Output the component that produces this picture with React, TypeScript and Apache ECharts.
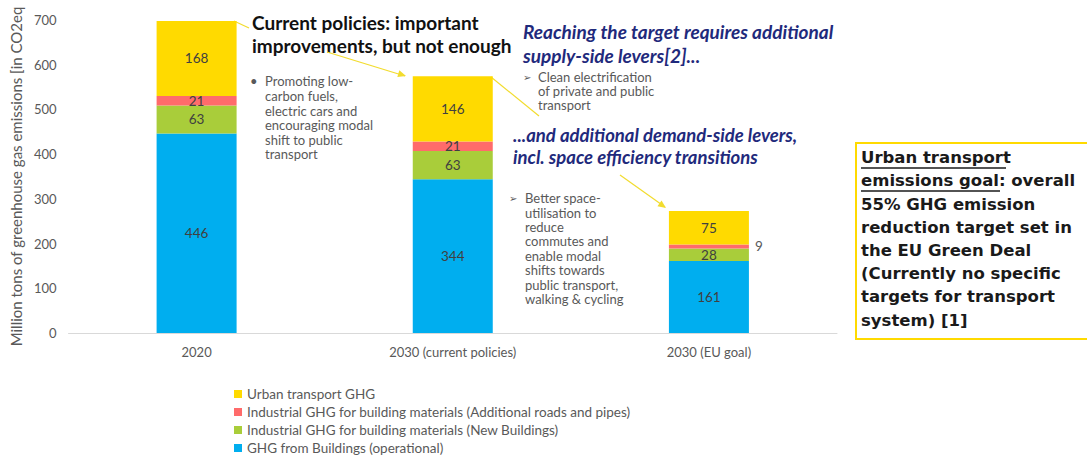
import React, { useEffect, useRef } from "react";
import * as echarts from "echarts";

const categories = ["2020", "2030 (current policies)", "2030 (EU goal)"];
const seriesNames = [
  "GHG from Buildings (operational)",
  "Industrial GHG for building materials (New Buildings)",
  "Industrial GHG for building materials (Additional roads and pipes)",
  "Urban transport GHG",
];
const buildingsOperational = [446, 344, 161];
const newBuildings = [63, 63, 28];
const roadsPipes = [21, 21, 9];
const urbanTransport = [168, 146, 75];
const seriesColors = ["#00AEEF", "#A9CD3A", "#FF6B6B", "#FFDA00"];
const yTicks = { min: 0, max: 700, interval: 100 };
const legendOrder = [seriesNames[3], seriesNames[2], seriesNames[1], seriesNames[0]];

const FONT = "Lato, 'Open Sans', sans-serif";
const BOXFONT = "'DejaVu Sans', sans-serif";
const GREY = "#595959";
const NAVY = "#1F2A7C";
const ARROW = "#F2DC2E";

export default function App() {
  const ref = useRef<HTMLDivElement>(null);
  useEffect(() => {
    if (!ref.current) return;
    const chart = echarts.init(ref.current, undefined, { renderer: "svg" });
    const values = [buildingsOperational, newBuildings, roadsPipes, urbanTransport];
    const series = values.map((vals, i) => ({
      name: seriesNames[i],
      type: "bar",
      stack: "total",
      barWidth: 80,
      itemStyle: { color: seriesColors[i] },
      label: {
        show: true,
        position: "inside",
        color: "#404040",
        fontSize: 13.5,
        fontFamily: FONT,
      },
      data: vals.map((v, j) =>
        i === 2 && j === 2
          ? { value: v, label: { position: "right", distance: 6, color: GREY } }
          : v
      ),
    }));

    const bodyText = (x: number, y: number, text: string, size = 13, lh = 14.6) => ({
      type: "text",
      x,
      y,
      style: { text, fill: GREY, font: `${size}px ${FONT}`, lineHeight: lh },
    });
    const yellowLine = (x1: number, y1: number, x2: number, y2: number) => ({
      type: "line",
      shape: { x1, y1, x2, y2 },
      style: { stroke: ARROW, lineWidth: 1.2 },
    });
    const arrowHead = (x1: number, y1: number, x2: number, y2: number) => {
      const a = Math.atan2(y2 - y1, x2 - x1);
      const L = 8, W = 3.5;
      const bx = x2 - L * Math.cos(a), by = y2 - L * Math.sin(a);
      return {
        type: "polygon",
        shape: {
          points: [
            [x2, y2],
            [bx + W * Math.sin(a), by - W * Math.cos(a)],
            [bx - W * Math.sin(a), by + W * Math.cos(a)],
          ],
        },
        style: { fill: ARROW },
      };
    };

    const boxLines = [
      "Urban transport",
      "emissions goal: overall",
      "55% GHG emission",
      "reduction target set in",
      "the EU Green Deal",
      "(Currently no specific",
      "targets for transport",
      "system) [1]",
    ];

    chart.setOption({
      animation: false,
      textStyle: { fontFamily: FONT },
      grid: { left: 65, right: 250, top: 20, bottom: 126 },
      xAxis: {
        type: "category",
        data: categories,
        axisLine: { lineStyle: { color: "#D9D9D9", width: 1 } },
        axisTick: { show: false },
        axisLabel: { color: GREY, fontSize: 13, margin: 12, fontFamily: FONT },
      },
      yAxis: {
        type: "value",
        min: yTicks.min,
        max: yTicks.max,
        interval: yTicks.interval,
        splitLine: { show: false },
        axisLine: { show: false },
        axisLabel: { color: GREY, fontSize: 13, margin: 12, fontFamily: FONT },
        name: "Million tons of greenhouse gas emissions [in CO2eq",
        nameLocation: "middle",
        nameGap: 40,
        nameTextStyle: { color: GREY, fontSize: 15, fontFamily: FONT },
      },
      legend: {
        data: legendOrder,
        orient: "vertical",
        left: 229,
        top: 382,
        height: 78,
        icon: "rect",
        itemWidth: 8,
        itemHeight: 8,
        itemGap: 4,
        textStyle: { color: GREY, fontSize: 13.5, fontFamily: FONT },
      },
      series,
      graphic: [
        {
          type: "text",
          x: 252,
          y: 11,
          style: {
            text: "Current policies: important\nimprovements, but not enough",
            fill: "#111",
            font: `bold 19px ${FONT}`,
            lineHeight: 23,
          },
        },
        bodyText(250, 74, "•"),
        bodyText(265, 74, "Promoting low-\ncarbon fuels,\nelectric cars and\nencouraging modal\nshift to public\ntransport"),
        {
          type: "text",
          x: 523,
          y: 19,
          style: {
            text: "Reaching the target requires additional\nsupply-side levers[2]...",
            fill: NAVY,
            font: `italic bold 19px ${FONT}`,
            lineHeight: 24,
          },
        },
        bodyText(523, 70, "➢", 10),
        bodyText(538, 70, "Clean electrification\nof private and public\ntransport", 13, 14),
        {
          type: "text",
          x: 513,
          y: 124,
          style: {
            text: "...and additional demand-side levers,\nincl. space efficiency transitions",
            fill: NAVY,
            font: `italic bold 18.5px ${FONT}`,
            lineHeight: 22,
          },
        },
        bodyText(509, 191, "➢", 10),
        bodyText(525, 191, "Better space-\nutilisation to\nreduce\ncommutes and\nenable modal\nshifts towards\npublic transport,\nwalking & cycling", 13, 14.4),
        yellowLine(234, 21, 249, 28),
        yellowLine(327, 52, 405, 76),
        arrowHead(327, 52, 406, 76),
        yellowLine(491, 77, 539, 116),
        yellowLine(620, 175, 665, 207),
        arrowHead(620, 175, 666, 208),
        {
          type: "rect",
          shape: { x: 856, y: 143, width: 260, height: 196 },
          style: { fill: "#fff", stroke: "#FFDA00", lineWidth: 2 },
        },
        {
          type: "text",
          x: 861,
          y: 146,
          style: {
            text: boxLines.join("\n"),
            fill: "#1a1a1a",
            font: `bold 16.5px ${BOXFONT}`,
            lineHeight: 23.2,
          },
        },
        {
          type: "line",
          shape: { x1: 861, y1: 168, x2: 1006, y2: 168 },
          style: { stroke: "#1a1a1a", lineWidth: 1.4 },
        },
        {
          type: "line",
          shape: { x1: 861, y1: 191, x2: 1000, y2: 191 },
          style: { stroke: "#1a1a1a", lineWidth: 1.4 },
        },
      ],
    });
    return () => chart.dispose();
  }, []);
  return (
    <div
      ref={ref}
      style={{ position: "absolute", left: 0, top: 0, width: 1087, height: 459 }}
    />
  );
}
